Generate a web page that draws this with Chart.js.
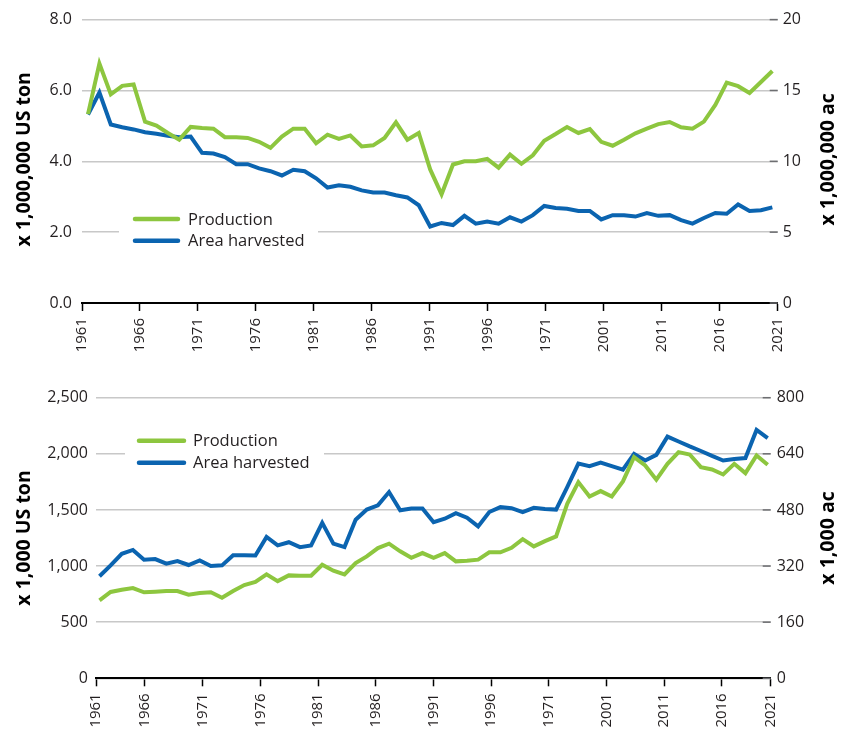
<!DOCTYPE html>
<html><head><meta charset="utf-8">
<script src="https://cdn.jsdelivr.net/npm/chart.js@4.4.1/dist/chart.umd.min.js"></script>
<style>
html,body{margin:0;padding:0;background:#fff;}
#wrap{position:relative;width:846px;height:730px;}
canvas{position:absolute;left:0;}
</style></head><body>
<div id="wrap">
<canvas id="top" width="846" height="365" style="top:0"></canvas>
<canvas id="bot" width="846" height="365" style="top:365px"></canvas>
</div>
<script>
const years = [1961,1962,1963,1964,1965,1966,1967,1968,1969,1970,
  1971,1972,1973,1974,1975,1976,1977,1978,1979,1980,
  1981,1982,1983,1984,1985,1986,1987,1988,1989,1990,
  1991,1992,1993,1994,1995,1996,1997,1998,1999,2000,
  2001,2002,2003,2004,2005,2006,2007,2008,2009,2010,
  2011,2012,2013,2014,2015,2016,2017,2018,2019,2020,2021];
const tickLabels = ['1961','1966','1971','1976','1981','1986','1991','1996','1971','2001','2011','2016','2021'];
const seriesNames = ['Production','Area harvested'];

// Top chart: production (x 1,000,000 US ton), area (x 1,000,000 ac)
const prodTop = [5.33,6.76,5.89,6.13,6.17,5.12,5.01,4.80,4.61,4.97,
  4.94,4.92,4.68,4.68,4.66,4.55,4.38,4.70,4.92,4.92,
  4.51,4.75,4.63,4.73,4.42,4.45,4.66,5.10,4.61,4.80,
  3.77,3.07,3.91,4.00,4.00,4.07,3.82,4.19,3.93,4.17,
  4.58,4.77,4.97,4.80,4.91,4.55,4.44,4.61,4.79,4.92,
  5.05,5.11,4.96,4.92,5.12,5.59,6.22,6.12,5.93,6.24,6.55];
const areaTop = [13.3,14.85,12.6,12.4,12.25,12.05,11.95,11.8,11.7,11.75,
  10.6,10.55,10.3,9.8,9.8,9.5,9.3,9.0,9.4,9.3,
  8.8,8.15,8.3,8.2,7.95,7.8,7.8,7.6,7.45,6.9,
  5.4,5.65,5.5,6.15,5.6,5.75,5.6,6.05,5.75,6.2,
  6.85,6.7,6.65,6.5,6.5,5.9,6.2,6.2,6.1,6.35,
  6.15,6.2,5.85,5.6,6.0,6.35,6.3,6.95,6.5,6.55,6.75];

// Bottom chart: production (x 1,000 US ton), area (x 1,000 ac)
const prodBottom = [695,769,789,804,766,772,778,778,745,760,
  766,718,777,831,858,926,866,917,914,914,
  1012,958,926,1027,1086,1160,1199,1131,1074,1116,
  1074,1116,1042,1048,1057,1122,1122,1163,1240,1175,
  1222,1264,1555,1748,1620,1668,1620,1754,1970,1896,
  1769,1911,2015,1994,1881,1861,1816,1911,1828,1985,1902];
const areaBottom = [291,322,355,366,338,340,327,334,323,336,
  320,322,351,351,350,403,379,388,374,379,
  443,384,374,452,481,493,531,479,484,484,
  445,455,471,458,433,474,488,485,474,486,
  483,481,545,612,605,615,605,595,640,621,
  637,689,675,661,648,634,621,625,628,708,685];

const topLeftTitle = 'x 1,000,000 US ton';
const topRightTitle = 'x 1,000,000 ac';
const botLeftTitle = 'x 1,000 US ton';
const botRightTitle = 'x 1,000 ac';

const FONT = "'Open Sans', 'Noto Sans', sans-serif";
const GREEN = '#8dc63f';
const BLUE = '#0b64b0';
const TEXT = '#231f20';

const legendPlugin = {
  id: 'customLegend',
  beforeDatasetsDraw(chart, args, o) {
    const ctx = chart.ctx;
    ctx.save();
    ctx.fillStyle = '#fff';
    ctx.fillRect(o.boxX, o.boxY, o.boxW, o.boxH);
    chart.data.datasets.forEach((ds, i) => {
      const y = o.rowY[i];
      ctx.strokeStyle = ds.borderColor;
      ctx.lineWidth = 4.5;
      ctx.lineCap = 'round';
      ctx.beginPath();
      ctx.moveTo(o.lineX1, y);
      ctx.lineTo(o.lineX2, y);
      ctx.stroke();
      ctx.fillStyle = TEXT;
      ctx.font = o.fontSize + 'px ' + FONT;
      ctx.textAlign = 'left';
      ctx.textBaseline = 'middle';
      ctx.fillText(ds.label, o.textX, y + 1);
    });
    ctx.restore();
  }
};

const rightTicksPlugin = {
  id: 'rightTicks',
  beforeDatasetsDraw(chart) {
    const s = chart.scales.yR;
    const ctx = chart.ctx;
    const r = chart.chartArea.right;
    ctx.save();
    ctx.strokeStyle = '#6d6e71';
    ctx.lineWidth = 1.5;
    s.ticks.forEach(t => {
      const y = s.getPixelForValue(t.value);
      ctx.beginPath();
      ctx.moveTo(r - 8, y);
      ctx.lineTo(r, y);
      ctx.stroke();
    });
    ctx.restore();
  }
};

const titlePlugin = {
  id: 'axisTitles',
  afterDraw(chart, args, o) {
    const ctx = chart.ctx;
    const ca = chart.chartArea;
    const cy = (ca.top + ca.bottom) / 2 + (o.dy || 0);
    ctx.save();
    ctx.font = 'bold ' + o.size + 'px ' + FONT;
    ctx.fillStyle = '#000';
    ctx.textAlign = 'center';
    ctx.textBaseline = 'middle';
    [[o.leftX, o.left], [o.rightX, o.right]].forEach(([x, t]) => {
      ctx.save();
      ctx.translate(x, cy);
      ctx.rotate(-Math.PI / 2);
      ctx.fillText(t, 0, 0);
      ctx.restore();
    });
    ctx.restore();
  }
};

function makeChart(id, cfg) {
  const pts = arr => years.map((y, i) => ({x: y, y: arr[i]}));
  const common = {borderWidth: 4, pointRadius: 0, tension: 0, fill: false, borderJoinStyle: 'miter'};
  return new Chart(document.getElementById(id), {
    type: 'line',
    data: {datasets: [
      Object.assign({label: seriesNames[0], data: pts(cfg.prod), yAxisID: 'yL', borderColor: GREEN, backgroundColor: GREEN}, common),
      Object.assign({label: seriesNames[1], data: pts(cfg.area), yAxisID: 'yR', borderColor: BLUE, backgroundColor: BLUE}, common)
    ]},
    options: {
      responsive: false, animation: false, devicePixelRatio: 1,
      layout: {padding: {top: cfg.padTop, bottom: 0, left: 0, right: 0}},
      plugins: {
        legend: {display: false}, tooltip: {enabled: false},
        customLegend: cfg.legend,
        axisTitles: cfg.titles
      },
      scales: {
        x: {
          type: 'linear', min: cfg.xMin, max: cfg.xMax,
          afterBuildTicks: s => { s.ticks = cfg.tickFracs.map(f => ({value: cfg.xMin + f * (cfg.xMax - cfg.xMin)})); },
          afterFit: s => { s.height = cfg.xH; },
          grid: {drawOnChartArea: false, drawTicks: true, tickLength: 8, tickColor: '#000', tickWidth: 1.5},
          border: {display: true, color: '#000', width: 2},
          ticks: {autoSkip: false, maxRotation: 90, minRotation: 90, padding: 7, color: TEXT,
            font: {family: FONT, size: 15}, callback: (v, i) => tickLabels[i]}
        },
        yL: {
          position: 'left', min: 0, max: cfg.lMax,
          afterFit: s => { s.width = cfg.lW; },
          grid: {color: '#c8c8c8', lineWidth: 1.5, drawTicks: false},
          border: {display: false},
          ticks: {stepSize: cfg.lStep, padding: cfg.lPad, color: TEXT, font: {family: FONT, size: cfg.tickSize}, callback: cfg.lFmt}
        },
        yR: {
          position: 'right', min: 0, max: cfg.rMax,
          afterFit: s => { s.width = cfg.rW; },
          grid: {display: false, drawTicks: false},
          border: {display: false},
          ticks: {stepSize: cfg.rStep, padding: cfg.rPad, color: TEXT, font: {family: FONT, size: cfg.tickSize}, callback: v => String(v)}
        }
      }
    },
    plugins: [legendPlugin, rightTicksPlugin, titlePlugin]
  });
}

const uniformFracs = tickLabels.map((_, k) => k / (tickLabels.length - 1));
const e = 0.0726;
const edgeFracs = tickLabels.map((_, k) => k === 0 ? 0 : (k === tickLabels.length - 1 ? 1 : e + (1 - 2 * e) * (k - 1) / (tickLabels.length - 3)));

makeChart('top', {
  prod: prodTop, area: areaTop,
  padTop: 17, xH: 62,
  xMin: 1960.474, xMax: 2021.47, tickFracs: uniformFracs,
  lMax: 8, lStep: 2, lW: 82, lPad: 10, lFmt: v => v.toFixed(1),
  rMax: 20, rStep: 5, rW: 68.3, rPad: 5,
  tickSize: 16,
  legend: {boxX: 119, boxY: 206, boxW: 199, boxH: 46, rowY: [219, 240.7], lineX1: 135, lineX2: 178, textX: 188, fontSize: 16.5},
  titles: {size: 19.5, leftX: 24, rightX: 828, left: topLeftTitle, right: topRightTitle, dy: -2}
});

makeChart('bot', {
  prod: prodBottom, area: areaBottom,
  padTop: 32.7, xH: 51.7,
  xMin: 1960.686, xMax: 2021.27, tickFracs: edgeFracs,
  lMax: 2500, lStep: 500, lW: 96, lPad: 8, lFmt: v => v.toLocaleString('en-US'),
  rMax: 800, rStep: 160, rW: 75.3, rPad: 6,
  tickSize: 16,
  legend: {boxX: 125, boxY: 62, boxW: 199, boxH: 48, rowY: [75.7, 97.7], lineX1: 139, lineX2: 184, textX: 193, fontSize: 16.5},
  titles: {size: 19.5, leftX: 24, rightX: 828, left: botLeftTitle, right: botRightTitle, dy: 0}
});
</script>
</body></html>
